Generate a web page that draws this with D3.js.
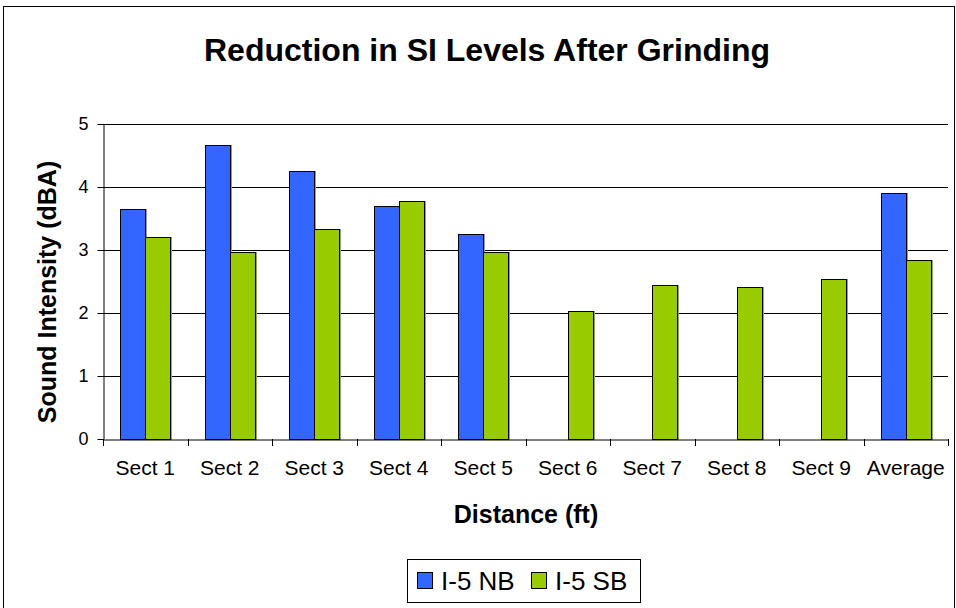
<!DOCTYPE html>
<html><head><meta charset="utf-8">
<script src="https://cdn.jsdelivr.net/npm/d3@7"></script>
<style>body{margin:0;background:#fff}svg{display:block;font-family:"Liberation Sans",Arial,sans-serif}</style>
</head><body><svg id="c" width="956" height="608"></svg>
<script>
const categories = ["Sect 1","Sect 2","Sect 3","Sect 4","Sect 5","Sect 6","Sect 7","Sect 8","Sect 9","Average"];
const seriesNames = ["I-5 NB","I-5 SB"];
const nbValues = [3.65, 4.67, 4.26, 3.70, 3.25, null, null, null, null, 3.91];
const sbValues = [3.20, 2.97, 3.33, 3.78, 2.97, 2.03, 2.44, 2.41, 2.54, 2.84];
const yTicks = [0,1,2,3,4,5];
const colors = ["#3366FF","#99CC00"];

const svg = d3.select("#c");
svg.append("rect").attr("x",3.5).attr("y",6.5).attr("width",951).attr("height",700)
  .attr("fill","#fff").attr("stroke","#000").attr("stroke-width",1);

const L=103, R=948, T=124, B=439;
const x0 = d3.scaleBand().domain(categories).range([L,R]).padding(0);
const x1 = d3.scaleBand().domain(seriesNames).range([0,x0.bandwidth()]).paddingInner(0).paddingOuter(0.69);
const y = d3.scaleLinear().domain([0,5]).range([B,T]);

// gridlines
svg.append("g").selectAll("line").data(yTicks.filter(d=>d>0)).join("line")
  .attr("x1",L).attr("x2",R).attr("y1",d=>Math.round(y(d))+0.5).attr("y2",d=>Math.round(y(d))+0.5)
  .attr("stroke","#000").attr("stroke-width",1);

const rows = categories.map((c,i)=>({cat:c, vals:[nbValues[i], sbValues[i]]}));
const g = svg.append("g");
rows.forEach(r=>{
  r.vals.forEach((v,j)=>{
    if(v==null) return;
    const bx = Math.round(x0(r.cat)+x1(seriesNames[j]));
    const by = Math.round(y(v));
    g.append("rect").attr("x",bx+1.5).attr("y",by+0.5).attr("width",Math.round(x1.bandwidth())).attr("height",B-by)
      .attr("fill","none").attr("stroke","#999").attr("stroke-width",1);
    g.append("rect").attr("x",bx+0.5).attr("y",by+0.5).attr("width",Math.round(x1.bandwidth())).attr("height",B-by)
      .attr("fill",colors[j]).attr("stroke","#000").attr("stroke-width",1);
  });
});

// y axis
const ya = svg.append("g").attr("transform",`translate(${L+0.5},0)`)
  .call(d3.axisLeft(y).tickValues(yTicks).tickSize(6).tickSizeOuter(0).tickPadding(9).tickFormat(d3.format("d")));
ya.select(".domain").attr("stroke","#000");
ya.selectAll(".tick line").attr("stroke","#000");
ya.selectAll("text").attr("font-size",18).attr("font-family","Liberation Sans, Arial").attr("fill","#000");

// x axis
const xa = svg.append("g").attr("transform",`translate(0,${B+0.5})`)
  .call(d3.axisBottom(x0).tickSize(0).tickPadding(28).tickSizeOuter(0));
xa.select(".domain").attr("stroke","#000");
xa.selectAll("text").attr("font-size",21).attr("font-family","Liberation Sans, Arial").attr("fill","#000")
  .attr("dy","0.35em");
// category boundary ticks
svg.append("g").selectAll("line").data(categories.concat(["_end"])).join("line")
  .attr("x1",(d,i)=>Math.round(i<categories.length?x0(d):R)+0.5)
  .attr("x2",(d,i)=>Math.round(i<categories.length?x0(d):R)+0.5)
  .attr("y1",B).attr("y2",B+7).attr("stroke","#000");

// titles
svg.append("text").attr("x",487).attr("y",61).attr("text-anchor","middle")
  .attr("font-size",32).attr("font-weight","bold").text("Reduction in SI Levels After Grinding");
svg.append("text").attr("x",526).attr("y",523).attr("text-anchor","middle")
  .attr("font-size",25).attr("font-weight","bold").text("Distance (ft)");
svg.append("text").attr("transform","translate(56,292) rotate(-90)").attr("text-anchor","middle")
  .attr("font-size",25).attr("font-weight","bold").text("Sound Intensity (dBA)");

// legend
const lg = svg.append("g");
lg.append("rect").attr("x",407.5).attr("y",559.5).attr("width",233).attr("height",43)
  .attr("fill","#fff").attr("stroke","#000");
const lx = [417, 531];
seriesNames.forEach((s,i)=>{
  lg.append("rect").attr("x",lx[i]+0.5).attr("y",572.5).attr("width",15).attr("height",16)
    .attr("fill",colors[i]).attr("stroke","#000");
  lg.append("text").attr("x",lx[i]+24).attr("y",590).attr("font-size",26).text(s);
});
</script></body></html>
